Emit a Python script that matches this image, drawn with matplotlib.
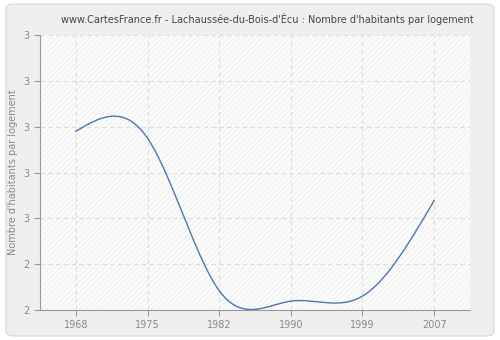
import matplotlib
matplotlib.use("Agg")
import matplotlib.pyplot as plt
from matplotlib.patches import FancyBboxPatch, Rectangle
import numpy as np

# Data
years = ["1968", "1975", "1982", "1990", "1999", "2007"]
values = [2.78, 2.75, 2.085, 2.039, 2.061, 2.478]
ytick_values = [2.0, 2.2, 2.4, 2.6, 2.8, 3.0, 3.2]
ytick_labels = ["2", "2", "3", "3", "3", "3", "3"]


def natural_spline(y, steps=40):
    # natural cubic spline through evenly spaced points (curve smoothing only)
    y = np.asarray(y, dtype=float)
    n = len(y)
    A = np.zeros((n, n))
    d = np.zeros(n)
    A[0, 0] = A[-1, -1] = 1
    for i in range(1, n - 1):
        A[i, i - 1], A[i, i], A[i, i + 1] = 1, 4, 1
        d[i] = 6 * (y[i + 1] - 2 * y[i] + y[i - 1])
    M = np.linalg.solve(A, d)
    xs, ys = [], []
    for i in range(n - 1):
        t = np.linspace(0, 1, steps, endpoint=(i == n - 2))
        s = ((1 - t) * y[i] + t * y[i + 1]
             + ((1 - t) ** 3 - (1 - t)) * M[i] / 6 + (t ** 3 - t) * M[i + 1] / 6)
        xs.append(i + t)
        ys.append(s)
    return np.concatenate(xs), np.concatenate(ys)


plt.rcParams["hatch.linewidth"] = 0.6
fig = plt.figure(figsize=(5, 3.4), dpi=100)
fig.patch.set_facecolor("white")
fig.patches.append(FancyBboxPatch((0.012, 0.012), 0.976, 0.976,
                                  boxstyle="round,pad=0,rounding_size=0.015",
                                  transform=fig.transFigure,
                                  facecolor="#efefef", edgecolor="#dcdcdc",
                                  linewidth=1.0, zorder=-10))

ax = fig.add_axes([0.08, 0.088, 0.86, 0.809])
ax.set_facecolor("white")
ax.add_patch(Rectangle((0, 0), 1, 1, transform=ax.transAxes, facecolor="#fbfbfb",
                       edgecolor="#eeeeee", hatch="//////", linewidth=0, zorder=0))

x = np.arange(len(years))
cx, cy = natural_spline(values)
ax.plot(cx, cy, color="#4a78b0", linewidth=1.0, zorder=3)

ax.set_xlim(-0.5, 5.5)
ax.set_ylim(ytick_values[0], ytick_values[-1])
ax.set_xticks(x)
ax.set_xticklabels(years)
ax.set_yticks(ytick_values)
ax.set_yticklabels(ytick_labels)

ax.grid(True, color="#dddddd", linestyle=(0, (4, 3)), linewidth=0.8)
ax.set_axisbelow(True)
for s in ["top", "right"]:
    ax.spines[s].set_visible(False)
for s in ["left", "bottom"]:
    ax.spines[s].set_color("#999999")
ax.tick_params(axis="both", colors="#999999", labelcolor="#888888", labelsize=7,
               length=4, width=0.8)

ax.set_ylabel("Nombre d'habitants par logement", fontsize=7, color="#888888")
fig.text(0.535, 0.945, "www.CartesFrance.fr - Lachaussée-du-Bois-d'Écu : Nombre d'habitants par logement",
         ha="center", va="center", fontsize=7.0, color="#444444")

fig.savefig("out.png", dpi=100, facecolor=fig.get_facecolor())
